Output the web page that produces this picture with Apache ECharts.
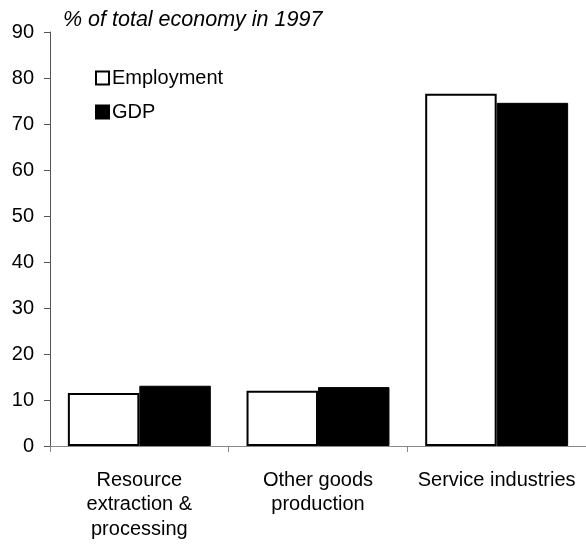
<!DOCTYPE html>
<html>
<head>
<meta charset="utf-8">
<script src="https://cdn.jsdelivr.net/npm/echarts@6/dist/echarts.min.js"></script>
<style>
html,body{margin:0;padding:0;background:#fff;}
#chart{width:586px;height:546px;}
</style>
</head>
<body>
<div id="chart"></div>
<script>
const titleText = '% of total economy in 1997';
const categories = ['Resource\nextraction &\nprocessing', 'Other goods\nproduction', 'Service industries'];
const employment = [11.5, 12.0, 76.6];
const gdp = [13.1, 12.8, 74.6];
const yMin = 0, yMax = 90, yStep = 10;

const FONT = '"Liberation Sans", Arial, sans-serif';
const chart = echarts.init(document.getElementById('chart'), null, {renderer: 'canvas'});
chart.setOption({
  animation: false,
  backgroundColor: '#fff',
  title: {
    text: titleText,
    left: 63, top: 9, padding: 0,
    textStyle: {fontFamily: FONT, fontStyle: 'italic', fontWeight: 'normal', fontSize: 21.5, color: '#000'}
  },
  legend: {
    orient: 'vertical',
    left: 95, top: 68,
    itemWidth: 13, itemHeight: 13,
    itemGap: 14,
    padding: 0,
    icon: 'rect',
    textStyle: {fontFamily: FONT, fontSize: 20, color: '#000', padding: [6, 0, 0, -2]},
    data: ['Employment', 'GDP']
  },
  grid: {left: 50, top: 32, width: 539, bottom: 100, containLabel: false},
  xAxis: {
    type: 'category',
    data: categories,
    axisLine: {lineStyle: {color: '#888', width: 1}},
    axisTick: {show: true, length: 6, lineStyle: {color: '#888'}},
    axisLabel: {fontFamily: FONT, fontSize: 20, color: '#000', margin: 22, lineHeight: 24.5, interval: 0}
  },
  yAxis: {
    type: 'value',
    min: yMin, max: yMax, interval: yStep,
    axisLine: {show: true, lineStyle: {color: '#555', width: 1}},
    axisTick: {show: true, length: 6, lineStyle: {color: '#555'}},
    splitLine: {show: false},
    axisLabel: {fontFamily: FONT, fontSize: 20, color: '#000', margin: 16}
  },
  series: [
    {
      name: 'Employment', type: 'bar', data: employment,
      barGap: '0%', barCategoryGap: '20%',
      itemStyle: {color: '#fff', borderColor: '#000', borderWidth: 2}
    },
    {
      name: 'GDP', type: 'bar', data: gdp,
      itemStyle: {color: '#000', borderColor: '#000', borderWidth: 1}
    }
  ]
});
</script>
</body>
</html>
